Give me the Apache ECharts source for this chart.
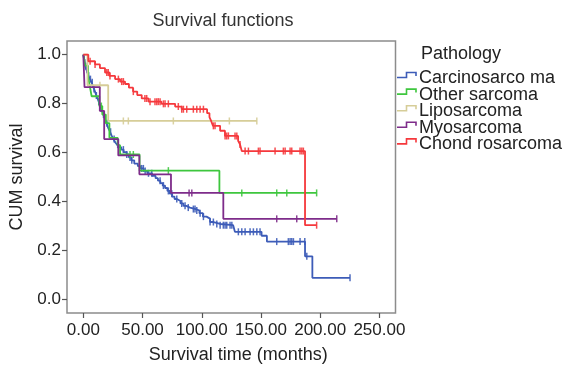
<!DOCTYPE html>
<html>
<head>
<meta charset="utf-8">
<script src="https://cdn.jsdelivr.net/npm/echarts@6/dist/echarts.min.js"></script>
<style>
  html, body { margin: 0; padding: 0; background: #ffffff; }
  #chart { width: 570px; height: 369px; }
</style>
</head>
<body>
<div id="chart"></div>
<script>
// Kaplan-Meier survival estimates by pathology group.
// Each step list holds [month, survival] pairs: the curve takes that value from that month on.
const groupNames = ['Carcinosarco ma', 'Other sarcoma', 'Liposarcoma', 'Myosarcoma', 'Chond rosarcoma'];

const carcinosarcomaSteps = [
  [0, 1.0], [0.5, 0.985], [1, 0.968], [1.5, 0.953], [2.5, 0.94], [3.5, 0.925], [4.2, 0.914],
  [5.5, 0.9], [7, 0.887], [8, 0.872], [9, 0.86], [10, 0.847], [11, 0.833], [12, 0.82],
  [13, 0.808], [14, 0.795], [15, 0.78], [16, 0.768], [17, 0.756], [18.3, 0.734], [19.5, 0.72],
  [21, 0.701], [22.5, 0.685], [24, 0.668], [25.5, 0.655], [27, 0.641], [28.5, 0.632],
  [30, 0.622], [32, 0.612], [34, 0.602], [36.5, 0.592], [38.5, 0.58], [40.5, 0.568],
  [43, 0.555], [46, 0.545], [48, 0.535], [51, 0.525], [54, 0.515], [58, 0.505], [61, 0.495],
  [63, 0.485], [65, 0.475], [67, 0.465], [69, 0.455], [71, 0.443], [73, 0.432], [75, 0.42],
  [77, 0.41], [79, 0.402], [82, 0.392], [84.5, 0.382], [87, 0.375], [90, 0.369], [95, 0.363],
  [98, 0.352], [101, 0.338], [104, 0.33], [107, 0.316], [110, 0.308], [115.5, 0.303],
  [126.5, 0.296], [128, 0.276], [150.5, 0.26], [155, 0.236], [187.2, 0.176], [193.4, 0.088],
  [225.2, 0.088]
];
const otherSarcomaSteps = [
  [0, 1.0], [1.5, 0.955], [4, 0.91], [5.5, 0.87], [7, 0.83], [13.5, 0.79], [16, 0.755],
  [19, 0.72], [22, 0.66], [29, 0.63], [31, 0.592], [47.5, 0.526], [114.9, 0.435], [197, 0.435]
];
const liposarcomaSteps = [
  [0, 1.0], [3.5, 0.875], [21, 0.729], [146.5, 0.729]
];
const myosarcomaSteps = [
  [0, 1.0], [1, 0.867], [13.9, 0.77], [17.6, 0.655], [29.5, 0.588], [47.3, 0.511],
  [74, 0.435], [118.2, 0.329], [214, 0.329]
];
const chondrosarcomaSteps = [
  [0, 1.0], [4.2, 0.973], [9.9, 0.96], [14, 0.945], [18.3, 0.927], [22, 0.913], [26.8, 0.9],
  [31, 0.89], [35.2, 0.88], [38.5, 0.865], [42, 0.849], [45.5, 0.835], [49.3, 0.821],
  [55, 0.808], [66, 0.799], [77.5, 0.788], [83, 0.777], [104.5, 0.761], [106.5, 0.745],
  [108, 0.728], [109.5, 0.709], [115.5, 0.689], [119.6, 0.668], [130.7, 0.648],
  [132.3, 0.633], [133.8, 0.606], [187.2, 0.303], [197, 0.303]
];

// Months at which patients were censored
const carcinosarcomaCensored = [
  0.5, 1.2, 2, 3, 4.5, 6, 7.5, 9, 11, 13, 15, 17, 20, 23, 26, 29,
  33.8, 36.7, 39.4, 40.9, 49.3, 50.7, 52.2, 55, 57.8, 64.8, 67.6, 71.8, 74.7, 78.9,
  83.1, 85.9, 88.6, 92.9, 94.3, 95.8, 98.6, 101.4, 107, 109.8, 112.7, 115.5, 118.2,
  119.7, 121.1, 123.9, 125.4, 130.9, 133.8, 136.6, 140.8, 143.6, 146.5, 149.2, 163.3,
  173.1, 174.6, 176, 177.4, 183, 187, 188.7, 225.2
];
const otherSarcomaCensored = [15.2, 39.4, 42.2, 71.8, 133.8, 163.3, 171.8, 197];
const liposarcomaCensored = [14, 33.8, 38, 76, 123.3, 146.5];
const myosarcomaCensored = [89.3, 91.6, 163.3, 180.2, 214];
const chondrosarcomaCensored = [
  5.7, 9.9, 19.8, 21, 22.5, 29.6, 32.4, 33.8, 42.2, 52, 53.5, 56.3, 60.5, 62, 63.3, 64.8,
  67.6, 69, 71.8, 80.2, 83.1, 84.5, 87.3, 92.9, 95.8, 98.6, 101.4, 109.8, 111.2, 119.7,
  121.1, 122.5, 128.1, 129.6, 132.3, 136.6, 139.4, 147.8, 149.2, 161.9, 168.9, 170.4,
  174.6, 176, 183, 184.5, 185.8, 197
];

const xTickValues = [0, 50, 100, 150, 200, 250];
const yTickValues = [0, 0.2, 0.4, 0.6, 0.8, 1.0];

const stepLists = [carcinosarcomaSteps, otherSarcomaSteps, liposarcomaSteps, myosarcomaSteps, chondrosarcomaSteps];
const censorLists = [carcinosarcomaCensored, otherSarcomaCensored, liposarcomaCensored, myosarcomaCensored, chondrosarcomaCensored];
const groupColors = ['#3d5cb8', '#3ec63e', '#d6cd98', '#7e2c8a', '#f5383c'];

const FONT = '"Liberation Sans", Arial, Helvetica, sans-serif';

// survival value of a step curve at month t
function survivalAt(steps, t) {
  let v = steps[0][1];
  for (const [m, s] of steps) { if (m <= t + 1e-9) v = s; else break; }
  return v;
}

const series = [];
groupNames.forEach((name, i) => {
  series.push({
    name: name,
    type: 'line',
    step: 'end',
    data: stepLists[i],
    showSymbol: false,
    lineStyle: { color: groupColors[i], width: 1.8 },
    itemStyle: { color: groupColors[i] },
    z: 2 + i,
    animation: false
  });
  series.push({
    name: name + ' censored',
    type: 'scatter',
    data: censorLists[i].map(t => [t, survivalAt(stepLists[i], t)]),
    symbol: 'rect',
    symbolSize: [1.5, 7],
    itemStyle: { color: groupColors[i], opacity: 0.9 },
    z: 2 + i,
    animation: false,
    silent: true
  });
});

// Legend drawn as step-shaped keys beside the plot frame
const legendItems = [{
  type: 'text', left: 421, top: 45,
  style: { text: 'Pathology', font: '18px ' + FONT, fill: '#222' }
}];
groupNames.forEach((name, i) => {
  const yc = 78 + 16.6 * i;
  legendItems.push({
    type: 'polyline',
    shape: { points: [[397, yc - 0.5], [406.5, yc - 0.5], [406.5, yc - 5.5], [416, yc - 5.5], [416, yc - 2]] },
    style: { stroke: groupColors[i], lineWidth: 1.6, fill: null }
  });
  legendItems.push({
    type: 'text', x: 419, y: yc,
    style: { text: name, font: '18px ' + FONT, fill: '#222', textVerticalAlign: 'middle' }
  });
});
legendItems.push({
  type: 'text', x: 223, y: 21,
  style: { text: 'Survival functions', font: '18px ' + FONT, fill: '#333', textAlign: 'center', textVerticalAlign: 'middle' }
});

const chart = echarts.init(document.getElementById('chart'), null, { renderer: 'canvas' });
chart.setOption({
  animation: false,
  backgroundColor: '#ffffff',
  grid: {
    left: 67, right: 174.5, top: 41, bottom: 49,
    show: true, borderColor: '#8c8c8c', borderWidth: 1.5, backgroundColor: '#ffffff'
  },
  xAxis: {
    type: 'value',
    min: -13.8, max: 263.6,
    name: 'Survival time (months)',
    nameLocation: 'middle', nameGap: 33,
    nameTextStyle: { fontFamily: FONT, fontSize: 18, color: '#222', padding: [0, 0, 0, 14] },
    axisLine: { show: false, onZero: false },
    axisTick: { show: true, inside: false, length: 5, customValues: xTickValues, lineStyle: { color: '#555', width: 1.2 } },
    axisLabel: {
      customValues: xTickValues, margin: 9,
      fontFamily: FONT, fontSize: 17, color: '#222',
      formatter: v => v.toFixed(2)
    },
    splitLine: { show: false }
  },
  yAxis: {
    type: 'value',
    min: -0.0558, max: 1.0558,
    name: 'CUM survival',
    nameLocation: 'middle', nameGap: 38, nameRotate: 90,
    nameTextStyle: { fontFamily: FONT, fontSize: 18, color: '#222' },
    axisLine: { show: false, onZero: false },
    axisTick: { show: true, inside: false, length: 5, customValues: yTickValues, lineStyle: { color: '#555', width: 1.2 } },
    axisLabel: {
      customValues: yTickValues, margin: 6,
      fontFamily: FONT, fontSize: 17, color: '#222',
      formatter: v => v.toFixed(1)
    },
    splitLine: { show: false }
  },
  graphic: legendItems,
  series: series
});
</script>
</body>
</html>
